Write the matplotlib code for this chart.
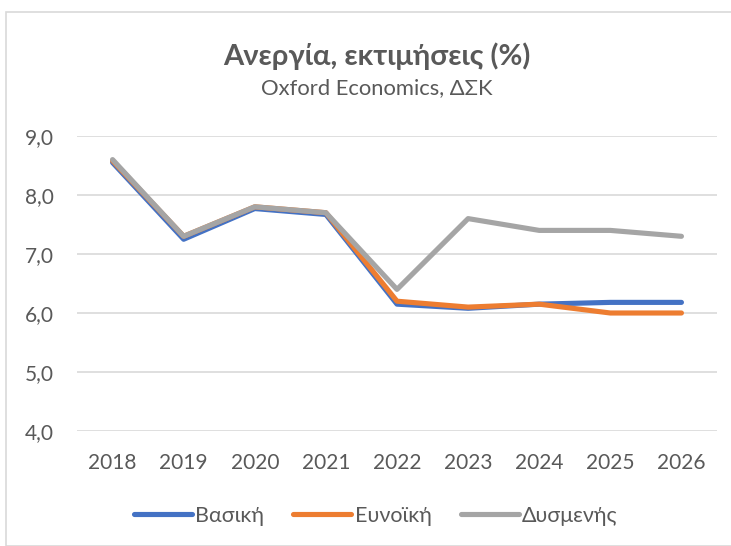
import matplotlib.pyplot as plt
from matplotlib.patches import Rectangle

plt.rcParams["font.family"] = ["Lato", "DejaVu Sans"]

years = ["2018", "2019", "2020", "2021", "2022", "2023", "2024", "2025", "2026"]
basic = [8.55, 7.25, 7.77, 7.67, 6.15, 6.08, 6.15, 6.18, 6.18]
favorable = [8.58, 7.3, 7.8, 7.7, 6.2, 6.1, 6.15, 6.0, 6.0]
adverse = [8.6, 7.3, 7.8, 7.7, 6.4, 7.6, 7.4, 7.4, 7.3]
labels = ["Βασική", "Ευνοϊκή", "Δυσμενής"]
colors = ["#4472C4", "#ED7D31", "#A5A5A5"]

fig = plt.figure(figsize=(7.31, 5.46), dpi=100)
fig.patches.append(Rectangle((6 / 731, 0), 1, 1 - 12 / 546, transform=fig.transFigure,
                             fill=False, edgecolor="#D9D9D9", linewidth=1.2))

ax = fig.add_axes([77 / 731, 1 - 431 / 546, 640 / 731, 295 / 546])
x = range(len(years))
for series, label, color in zip([basic, favorable, adverse], labels, colors):
    ax.plot(x, series, color=color, linewidth=3.7, label=label,
            solid_capstyle="round", solid_joinstyle="round")

ax.set_xlim(-0.5, len(years) - 0.5)
ax.set_ylim(4.0, 9.0)
ax.set_yticks([4, 5, 6, 7, 8, 9])
ax.set_yticklabels([f"{v:.1f}".replace(".", ",") for v in [4, 5, 6, 7, 8, 9]])
ax.set_xticks(list(x))
ax.set_xticklabels(years)
ax.tick_params(length=0, labelsize=15, colors="#595959")
ax.tick_params(axis="x", pad=16)
ax.tick_params(axis="y", pad=17)
ax.grid(axis="y", color="#D9D9D9", linewidth=1.2)
ax.set_axisbelow(True)
for s in ax.spines.values():
    s.set_visible(False)

fig.text(0.516, 1 - 56 / 546, "Ανεργία, εκτιμήσεις (%)", ha="center", va="center",
         fontsize=21, fontweight="bold", color="#595959")
fig.text(0.516, 1 - 88 / 546, "Oxford Economics, ΔΣΚ", ha="center", va="center",
         fontsize=15.8, color="#595959")

leg = fig.legend(loc="center", bbox_to_anchor=(0.514, 1 - 516 / 546), ncol=3, frameon=False,
                 fontsize=15.5, handlelength=2.7, handletextpad=0.15, columnspacing=1.35)
for t in leg.get_texts():
    t.set_color("#595959")

fig.savefig("out.png", dpi=100)
